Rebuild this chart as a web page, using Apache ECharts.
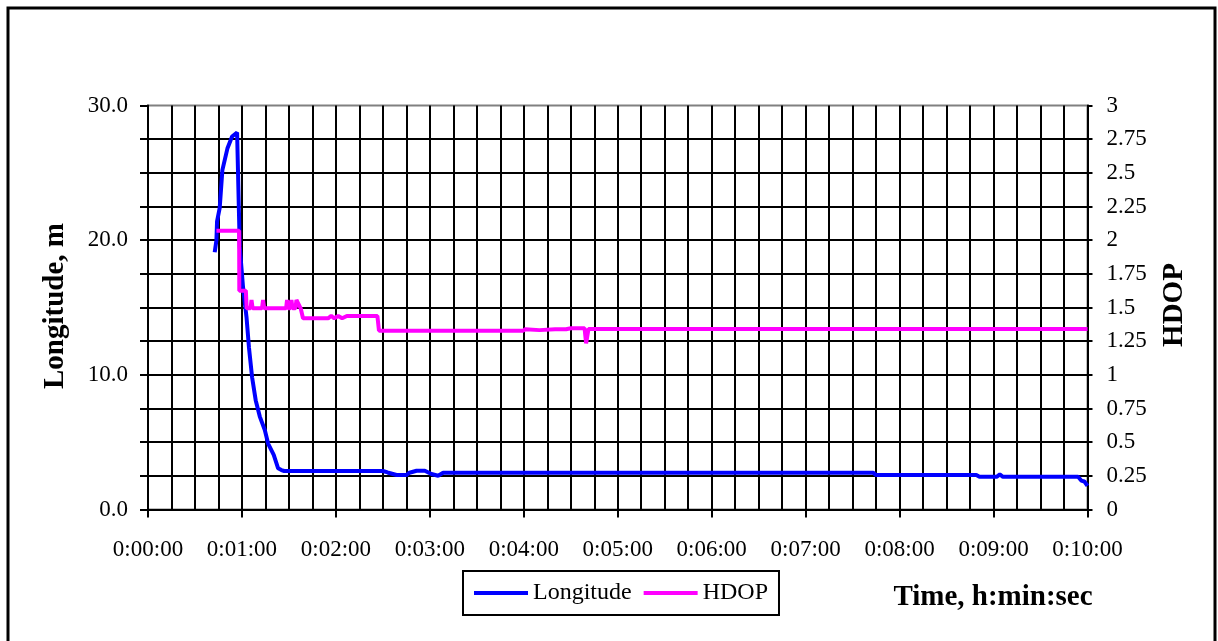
<!DOCTYPE html>
<html>
<head>
<meta charset="utf-8">
<script src="https://cdn.jsdelivr.net/npm/echarts@6/dist/echarts.min.js"></script>
<style>html,body{margin:0;padding:0;background:#fff}#c{width:1218px;height:641px}</style>
</head>
<body>
<div id="c"></div>
<script>
// time in seconds since start
const lonTime = [42.6,43.7,44.1,45.8,47.5,50.7,53.7,56.9,57.8,58.6,60.7,62.9,64.5,66.5,68.8,71.4,74.6,76.7,80.3,83.1,84.2,85.2,87,150,153,158.7,165,167,171.5,176.8,181,185.3,188.5,463,465,529,531,542,544,546,594,596,598,600];
const lonVal  = [19.1,20.0,21.4,22.4,25.2,26.8,27.7,28.0,28.0,19.5,16.5,14.3,12.0,9.8,8.1,6.9,5.9,4.9,4.05,3.06,3.1,2.93,2.86,2.86,2.75,2.56,2.56,2.73,2.88,2.88,2.64,2.51,2.73,2.73,2.56,2.56,2.43,2.43,2.6,2.43,2.43,2.15,2.08,1.75];
const hdopTime = [43.7,58.2,58.3,62.5,63,65.5,66.1,66.8,72.8,73.5,74.2,88.2,88.8,89.5,91.0,91.6,92.3,94.2,94.8,97.5,99.0,115,117,119,121.5,124,127,146.5,147.5,239.6,241,250,260,267,270,278.8,279.8,281.3,600];
const hdopVal  = [2.07,2.07,1.625,1.625,1.494,1.494,1.556,1.494,1.494,1.556,1.494,1.494,1.556,1.494,1.494,1.556,1.494,1.494,1.556,1.494,1.42,1.42,1.437,1.42,1.437,1.42,1.437,1.437,1.328,1.328,1.338,1.332,1.338,1.338,1.346,1.346,1.234,1.34,1.34];
const xTickLabels = ['0:00:00','0:01:00','0:02:00','0:03:00','0:04:00','0:05:00','0:06:00','0:07:00','0:08:00','0:09:00','0:10:00'];

const FONT = "'Liberation Serif','Times New Roman',serif";
const lonData = lonTime.map((t,i)=>[t,lonVal[i]]);
const hdopData = hdopTime.map((t,i)=>[t,hdopVal[i]]);

const chart = echarts.init(document.getElementById('c'), null, {renderer:'canvas'});
chart.setOption({
  animation:false,
  backgroundColor:'#fff',
  grid:{left:148,right:130.5,top:105.5,bottom:131.5,show:true,borderColor:'#808080',borderWidth:2,backgroundColor:'transparent'},
  xAxis:{
    type:'value',min:0,max:600,interval:60,
    axisLine:{show:true,onZero:false,lineStyle:{color:'#000',width:2}},
    axisTick:{show:true,length:8,lineStyle:{color:'#000',width:2}},
    minorTick:{show:false,splitNumber:4},
    splitLine:{show:true,lineStyle:{color:'#000',width:2}},
    minorSplitLine:{show:true,lineStyle:{color:'#000',width:2}},
    axisLabel:{margin:29,fontFamily:FONT,fontSize:23,color:'#000',
      formatter:v=>xTickLabels[Math.round(v/60)]}
  },
  yAxis:[{
    type:'value',min:0,max:30,interval:10,position:'left',
    axisLine:{show:true,lineStyle:{color:'#000',width:2}},
    axisTick:{show:true,length:8,lineStyle:{color:'#000',width:2}},
    minorTick:{show:true,splitNumber:4,length:8,lineStyle:{color:'#000',width:2}},
    splitLine:{show:true,showMaxLine:false,lineStyle:{color:'#000',width:2}},
    minorSplitLine:{show:true,lineStyle:{color:'#000',width:2}},
    axisLabel:{margin:20,fontFamily:FONT,fontSize:23,color:'#000',formatter:v=>v.toFixed(1)}
  },{
    type:'value',min:0,max:3,interval:0.25,position:'right',
    axisLine:{show:true,lineStyle:{color:'#000',width:2}},
    axisTick:{show:true,length:5,lineStyle:{color:'#000',width:2}},
    splitLine:{show:false},
    axisLabel:{margin:19,fontFamily:FONT,fontSize:23,color:'#000'}
  }],
  legend:{
    left:463,top:571,orient:'horizontal',
    borderColor:'#000',borderWidth:2,padding:[10,11],itemGap:12,
    itemWidth:54,itemHeight:4,icon:'rect',
    textStyle:{fontFamily:FONT,fontSize:24,color:'#000'},
    data:['Longitude','HDOP']
  },
  series:[{
    name:'Longitude',type:'line',yAxisIndex:0,data:lonData,showSymbol:false,
    lineStyle:{color:'#0000FF',width:4},itemStyle:{color:'#0000FF'}
  },{
    name:'HDOP',type:'line',yAxisIndex:1,data:hdopData,showSymbol:false,
    lineStyle:{color:'#FF00FF',width:4},itemStyle:{color:'#FF00FF'}
  }],
  graphic:[
    {type:'rect',shape:{x:8,y:8,width:1207,height:700},style:{fill:'none',stroke:'#000',lineWidth:3},silent:true},
    {type:'text',x:56,y:306,rotation:Math.PI/2,style:{text:'Longitude, m',font:"bold 29px 'Liberation Serif','Times New Roman',serif",fill:'#000',align:'center',verticalAlign:'middle'}},
    {type:'text',x:1175,y:305,rotation:Math.PI/2,style:{text:'HDOP',font:"bold 29px 'Liberation Serif','Times New Roman',serif",fill:'#000',align:'center',verticalAlign:'middle'}},
    {type:'text',x:993,y:598,style:{text:'Time, h:min:sec',font:"bold 29px 'Liberation Serif','Times New Roman',serif",fill:'#000',align:'center',verticalAlign:'middle'}}
  ]
});
</script>
</body>
</html>
